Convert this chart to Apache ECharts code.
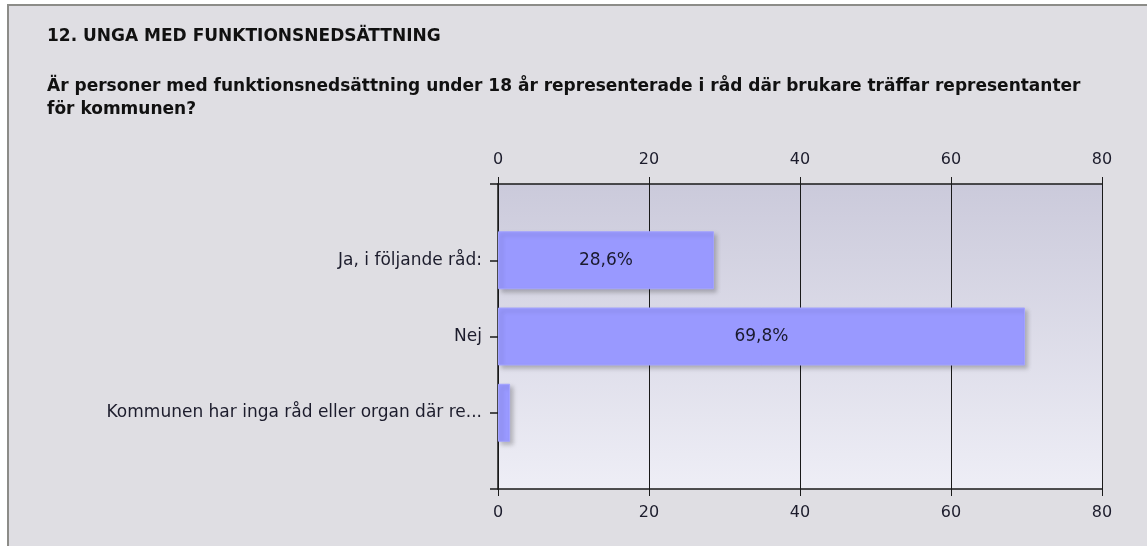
<!DOCTYPE html>
<html>
<head>
<meta charset="utf-8">
<script src="https://cdn.jsdelivr.net/npm/echarts@6/dist/echarts.min.js"></script>
<style>
  html, body { margin: 0; padding: 0; background: #ffffff; }
  #chart { width: 1147px; height: 546px; }
</style>
</head>
<body>
<div id="chart"></div>
<script>
// data
const heading = '12. UNGA MED FUNKTIONSNEDSÄTTNING'
const question = 'Är personer med funktionsnedsättning under 18 år representerade i råd där brukare träffar representanter\nför kommunen?'
// empty first/last slots keep the padding above and below the bars
const categories = ['', 'Ja, i följande råd:', 'Nej', 'Kommunen har inga råd eller organ där re...', '']
const percent = [null, 28.6, 69.8, 1.6, null]
const axisMin = 0
const axisMax = 80
const axisStep = 20

const font = 'DejaVu Sans'

let myChart = echarts.init(document.getElementById('chart'))

function xAxisCfg(pos) {
  return {
    type: 'value',
    position: pos,
    min: axisMin,
    max: axisMax,
    interval: axisStep,
    axisLine: { show: true, onZero: false, lineStyle: { color: '#1a1a1a', width: 1.5 } },
    axisTick: { show: true, length: 7, lineStyle: { color: '#1a1a1a' } },
    axisLabel: { margin: 16, color: '#1c1c2c', fontFamily: font, fontSize: 16 },
    splitLine: { show: pos === 'top', lineStyle: { color: '#1a1a1a', width: 1 } }
  }
}

let option = {
  animation: false,
  graphic: [
    {
      type: 'rect',
      z: -10,
      shape: { x: 8, y: 5, width: 1160, height: 560 },
      style: { fill: '#dfdee3', stroke: '#8c8c88', lineWidth: 2 }
    }
  ],
  title: [
    {
      text: heading,
      left: 42,
      top: 23,
      textStyle: { fontFamily: font, fontSize: 17, fontWeight: 'bold', color: '#111111' }
    },
    {
      text: question,
      left: 42,
      top: 70,
      textStyle: { fontFamily: font, fontSize: 17, fontWeight: 'bold', color: '#111111', lineHeight: 23 }
    }
  ],
  grid: {
    left: 498,
    right: 45,
    top: 184,
    bottom: 57,
    show: true,
    borderWidth: 0,
    backgroundColor: new echarts.graphic.LinearGradient(0, 0, 0, 1, [
      { offset: 0, color: '#cbcadb' },
      { offset: 1, color: '#eeeef6' }
    ])
  },
  xAxis: [xAxisCfg('top'), xAxisCfg('bottom')],
  yAxis: {
    type: 'category',
    inverse: true,
    boundaryGap: false,
    data: categories,
    axisLine: { lineStyle: { color: '#1a1a1a', width: 1.5 } },
    axisTick: { show: true, length: 8, interval: 0, lineStyle: { color: '#1a1a1a', width: 1.5 } },
    axisLabel: { margin: 16, interval: 0, color: '#1c1c2c', fontFamily: font, fontSize: 17 },
    splitLine: { show: false }
  },
  series: [
    {
      type: 'bar',
      xAxisIndex: 0,
      data: percent,
      barWidth: 58,
      itemStyle: {
        color: '#9999ff',
        borderColor: '#a3a3ff',
        borderWidth: 1,
        shadowColor: 'rgba(0,0,0,0.22)',
        shadowBlur: 4,
        shadowOffsetX: 3,
        shadowOffsetY: 3
      },
      label: {
        show: true,
        position: 'inside',
        color: '#1a1a2e',
        fontFamily: font,
        fontSize: 17,
        formatter: p => (p.value > 5 ? String(p.value).replace('.', ',') + '%' : '')
      }
    }
  ]
}

option && myChart.setOption(option)
</script>
</body>
</html>
